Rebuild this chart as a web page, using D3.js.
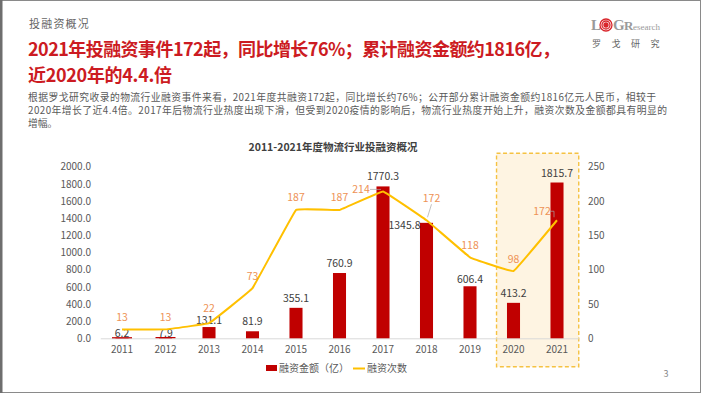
<!DOCTYPE html>
<html>
<head>
<meta charset="utf-8">
<script src="https://cdn.jsdelivr.net/npm/d3@7"></script>
<style>
  body { margin: 0; background: #fff; }
  svg { display: block; font-family: "Noto Sans CJK SC", "Noto Sans", sans-serif; }
</style>
</head>
<body>
<svg width="702" height="395"></svg>
<script>
// chart values
var years = ["2011", "2012", "2013", "2014", "2015", "2016", "2017", "2018", "2019", "2020", "2021"];
var amounts = [6.2, 7.9, 131.1, 81.9, 355.1, 760.9, 1770.3, 1345.8, 606.4, 413.2, 1815.7];
var counts = [13, 13, 22, 73, 187, 187, 214, 172, 118, 98, 172];
var amountTicks = [0, 200, 400, 600, 800, 1000, 1200, 1400, 1600, 1800, 2000];
var countTicks = [0, 50, 100, 150, 200, 250];
var highlightYears = ["2020", "2021"];
var seriesNames = ["融资金额（亿）", "融资次数"];

var pageTag = "投融资概况";
var titleLines = ["2021年投融资事件172起，同比增长76%；累计融资金额约1816亿，", "近2020年的4.4.倍"];
var bodyLines = [
  "根据罗戈研究收录的物流行业融资事件来看，2021年度共融资172起，同比增长约76%；公开部分累计融资金额约1816亿元人民币，相较于",
  "2020年增长了近4.4倍。2017年后物流行业热度出现下滑，但受到2020疫情的影响后，物流行业热度开始上升，融资次数及金额都具有明显的",
  "增幅。"
];
var chartTitle = "2011-2021年度物流行业投融资概况";

var red = "#c00000", gold = "#ffc000", orange = "#ee9255", grey = "#595959";

var svg = d3.select("svg");

// slide frame
svg.append("rect").attr("x", 0.5).attr("y", 0.5).attr("width", 700).attr("height", 392)
    .attr("fill", "none").attr("stroke", "#8a8a8a");
svg.append("rect").attr("x", 0).attr("y", 0).attr("width", 2.5).attr("height", 393).attr("fill", "#6e6e6e");

// header texts
svg.append("text").attr("x", 29).attr("y", 28).attr("font-size", 11).attr("letter-spacing", 1.2)
    .attr("fill", "#666").text(pageTag);

var titleWidths = [532, 144];
svg.append("g").selectAll("text").data(titleLines).enter().append("text")
    .attr("x", 28).attr("y", function(d, i) { return 56 + i * 26; })
    .attr("font-size", 18).attr("font-weight", "bold").attr("fill", "#cc1b22")
    .attr("textLength", function(d, i) { return titleWidths[i]; }).attr("lengthAdjust", "spacing")
    .text(function(d) { return d; });

var bodyWidths = [628, 639, null];
svg.append("g").selectAll("text").data(bodyLines).enter().append("text")
    .attr("x", 28).attr("y", function(d, i) { return 100.5 + i * 13; })
    .attr("font-size", 9.8).attr("fill", grey)
    .attr("textLength", function(d, i) { return bodyWidths[i]; }).attr("lengthAdjust", "spacing")
    .text(function(d) { return d; });

// logo
var logo = svg.append("g").attr("fill", "#9a9a9a");
logo.append("text").attr("x", 591).attr("y", 30).attr("font-size", 15).attr("font-weight", "bold")
    .attr("font-family", "Liberation Serif, serif").text("L");
[6, 4, 2].forEach(function(r, i) {
  logo.append("circle").attr("cx", 606).attr("cy", 25).attr("r", r)
      .attr("fill", i == 2 ? "#d9252b" : "none").attr("stroke", "#d9252b").attr("stroke-width", 1.3);
});
logo.append("text").attr("x", 613).attr("y", 30).attr("font-size", 15).attr("font-weight", "bold")
    .attr("font-family", "Liberation Serif, serif").text("G");
logo.append("text").attr("x", 624).attr("y", 30).attr("font-size", 13).attr("font-weight", "bold")
    .attr("font-family", "Liberation Serif, serif").text("R");
logo.append("text").attr("x", 633).attr("y", 30).attr("font-size", 9)
    .attr("font-family", "Liberation Serif, serif").text("esearch");
logo.append("text").attr("x", 592).attr("y", 47).attr("font-size", 9).attr("letter-spacing", 10.5)
    .attr("fill", "#666").text("罗戈研究");

// scales
var x = d3.scaleBand().domain(years).range([100.25, 578.75]).paddingInner(0.7).paddingOuter(0.35);
var yL = d3.scaleLinear().domain([0, 2000]).range([338.3, 166.7]);
var yR = d3.scaleLinear().domain([0, 250]).range([338.3, 166.7]);
var xc = function(d) { return x(d) + x.bandwidth() / 2; };

svg.append("text").attr("x", 333).attr("y", 151).attr("text-anchor", "middle")
    .attr("font-size", 10.5).attr("font-weight", "bold").attr("fill", "#404040").text(chartTitle);

// highlight box for last two years
var step = x.step();
svg.append("rect")
    .attr("x", xc(highlightYears[0]) - step * 0.39)
    .attr("y", 153.3)
    .attr("width", xc(highlightYears[1]) + step * 0.5 - (xc(highlightYears[0]) - step * 0.39))
    .attr("height", 213.4)
    .attr("fill", "#fef4e2").attr("stroke", "#f5c242").attr("stroke-width", 1.4)
    .attr("stroke-dasharray", "4,2.5");

// axes
var gL = svg.append("g").attr("transform", "translate(93,0)")
    .call(d3.axisLeft(yL).tickValues(amountTicks).tickFormat(d3.format(".1f")).tickSize(0).tickPadding(2));
var gR = svg.append("g").attr("transform", "translate(586,0)")
    .call(d3.axisRight(yR).tickValues(countTicks).tickSize(0).tickPadding(2));
var gX = svg.append("g").attr("transform", "translate(0,338.3)")
    .call(d3.axisBottom(x).tickSize(0).tickPadding(8));
[gL, gR].forEach(function(g) { g.select(".domain").remove(); });
gX.select(".domain").attr("stroke", "#d9d9d9");
[gL, gR, gX].forEach(function(g) {
  g.selectAll("text").attr("font-size", 10).attr("fill", grey)
      .attr("font-family", "\"Noto Sans CJK SC\", sans-serif");
});

// bars
var data = years.map(function(y, i) { return { year: y, amount: amounts[i], count: counts[i] }; });

svg.append("g").selectAll("rect").data(data).enter().append("rect")
    .attr("x", function(d) { return x(d.year); })
    .attr("width", x.bandwidth())
    .attr("y", function(d) { return yL(d.amount); })
    .attr("height", function(d) { return yL(0) - yL(d.amount); })
    .attr("fill", red);

// label nudges (dx, dy of label centre relative to default)
var barNudge = { "2011": [0, 5], "2012": [0, 5], "2013": [0, 3], "2019": [0, 3], "2018": [-22, 12] };
var countNudge = { "2013": [0, -3], "2017": [-22, 10], "2018": [5, -10], "2021": [-15, 3] };

svg.append("g").selectAll("text").data(data).enter().append("text")
    .attr("x", function(d) { return xc(d.year) + (barNudge[d.year] ? barNudge[d.year][0] : 0); })
    .attr("y", function(d) { return yL(d.amount) - 6 + (barNudge[d.year] ? barNudge[d.year][1] : 0); })
    .attr("text-anchor", "middle").attr("font-size", 10.5).attr("fill", "#404040")
    .text(function(d) { return d.amount.toFixed(1); });

// tiny underline for near-zero bars
svg.append("g").selectAll("line").data(data.filter(function(d) { return d.amount < 10; })).enter().append("line")
    .attr("x1", function(d) { return xc(d.year) - 10; }).attr("x2", function(d) { return xc(d.year) + 10; })
    .attr("y1", function(d) { return yL(d.amount); }).attr("y2", function(d) { return yL(d.amount); })
    .attr("stroke", red).attr("stroke-width", 1.2);

// count line
var line = d3.line()
    .x(function(d) { return xc(d.year); })
    .y(function(d) { return yR(d.count); })
    .curve(d3.curveCardinal.tension(0.85));

svg.append("path").datum(data).attr("d", line)
    .attr("fill", "none").attr("stroke", gold).attr("stroke-width", 2);

// leader lines
var leaders = svg.append("g").attr("stroke", "#a6a6a6").attr("stroke-width", 0.7).attr("fill", "none");
data.forEach(function(d) {
  var px = xc(d.year), py = yR(d.count);
  if (d.year == "2017") leaders.append("path").attr("d", "M" + (px - 13) + "," + (py - 2) + "H" + (px - 2));
  if (d.year == "2018") leaders.append("path").attr("d", "M" + (px + 5) + "," + (py - 16) + "L" + (px + 1) + "," + (py - 3));
  if (d.year == "2021") leaders.append("path").attr("d", "M" + (px - 7) + "," + (py - 9) + "H" + (px - 3) + "V" + (py - 3));
});

svg.append("g").selectAll("text").data(data).enter().append("text")
    .attr("x", function(d) { return xc(d.year) + (countNudge[d.year] ? countNudge[d.year][0] : 0); })
    .attr("y", function(d) { return yR(d.count) - 8.5 + (countNudge[d.year] ? countNudge[d.year][1] : 0); })
    .attr("text-anchor", "middle").attr("font-size", 10.5).attr("fill", orange)
    .text(function(d) { return d.count; });

// legend
var legend = svg.append("g").attr("font-size", 10).attr("fill", grey);
legend.append("rect").attr("x", 266).attr("y", 365).attr("width", 11).attr("height", 6).attr("fill", red);
legend.append("text").attr("x", 279).attr("y", 372).text(seriesNames[0]);
legend.append("line").attr("x1", 353).attr("x2", 365).attr("y1", 368.5).attr("y2", 368.5)
    .attr("stroke", gold).attr("stroke-width", 2);
legend.append("text").attr("x", 367).attr("y", 372).text(seriesNames[1]);

// page number
svg.append("text").attr("x", 666).attr("y", 377).attr("text-anchor", "middle")
    .attr("font-size", 9).attr("fill", "#888").text("3");
</script>
</body>
</html>
